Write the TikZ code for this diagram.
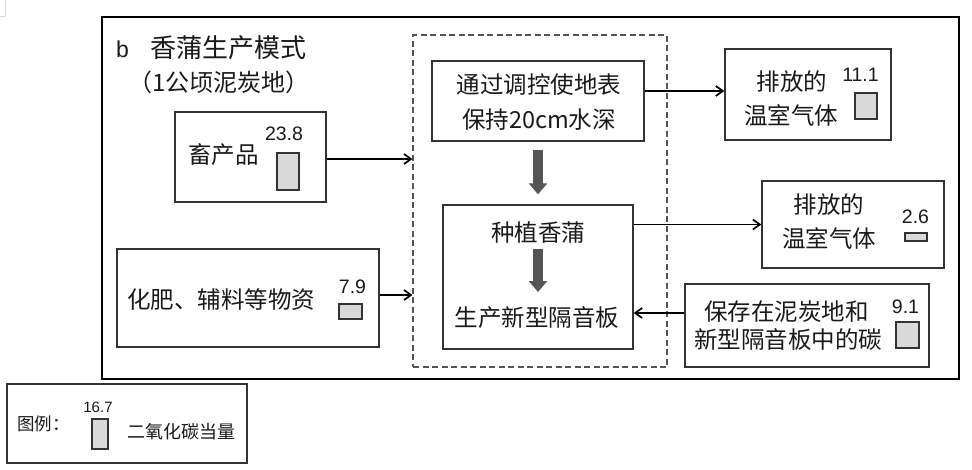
\documentclass[tikz,border=0pt]{standalone}
\usepackage{fontspec}
\setmainfont{Liberation Sans}
\newfontfamily\cjk{Noto Sans CJK SC}
\usetikzlibrary{arrows.meta}
\definecolor{boxline}{HTML}{333333}
\definecolor{barfill}{HTML}{D9D9D9}
\definecolor{garrowc}{HTML}{555555}
\definecolor{txt}{HTML}{1A1A1A}
\tikzset{
  frame/.style={draw=boxline, line width=1.4pt, inner sep=0pt, rectangle},
  cn/.style={font=\cjk\fontsize{23.5pt}{27pt}\selectfont, text=txt, inner sep=0pt},
  num/.style={font=\fontsize{19.5pt}{21pt}\selectfont, text=txt, inner sep=0pt},
  bar/.style={draw=boxline, fill=barfill, line width=1.1pt},
  conn/.style={draw=black, line width=1.7pt, -{Straight Barb[length=7pt,width=10pt]}},
  garrow/.style={draw=garrowc, line width=10pt, -{Triangle[length=11pt,width=18pt]}},
}
\begin{document}
\begin{tikzpicture}[x=1pt,y=-1pt]
\useasboundingbox[fill=white] (0,0) rectangle (972,469);
% faint artifact top-left
\draw[black!15, line width=0.8pt] (0,16.5) -- (5,16.5) -- (5,0);

% outer frame
\node[draw=black, line width=2.8pt, inner sep=0pt, minimum width=857pt, minimum height=362pt] (outer) at (530.5,198) {};
% title
\node[font=\fontsize{23pt}{25pt}\selectfont, text=txt, inner sep=0pt, anchor=west] (tb) at (116,49) {b};
\node[cn, font=\cjk\fontsize{26pt}{28pt}\selectfont, anchor=west] (title) at (150,48) {香蒲生产模式};
\node[cn, font=\cjk\fontsize{24pt}{26pt}\selectfont] (subtitle) at (219,82) {（1公顷泥炭地）};

% dashed group
\node[draw=garrowc, dash pattern=on 6pt off 3.5pt, line width=1.1pt, inner sep=0pt, minimum width=254pt, minimum height=332pt] (dash) at (540,201) {};

% boxes
\node[frame, minimum width=151pt, minimum height=90pt] (live) at (250.5,157) {};
\node[frame, minimum width=262pt, minimum height=98pt] (fert) at (248,298) {};
\node[frame, minimum width=212pt, minimum height=80pt] (ctrl) at (538,101) {};
\node[frame, minimum width=190pt, minimum height=144pt] (plant) at (538,277) {};
\node[frame, minimum width=166pt, minimum height=91pt] (em1) at (808,94.5) {};
\node[frame, minimum width=182pt, minimum height=87pt] (em2) at (853,224.5) {};
\node[frame, minimum width=244pt, minimum height=83pt] (store) at (807,325.5) {};
\node[frame, minimum width=240pt, minimum height=79pt] (legend) at (127,423.5) {};

% texts
\node[cn, anchor=west] (tlive) at (188,155) {畜产品};
\node[num] (nlive) at (284,134) {23.8};
\draw[bar] (277,153) rectangle (299,190);

\node[cn, anchor=west] (tfert) at (127,300) {化肥、辅料等物资};
\node[num] (nfert) at (352.5,287) {7.9};
\draw[bar] (339,304) rectangle (362,319);

\node[cn] (tctrl1) at (539,85) {通过调控使地表};
\node[cn] (tctrl2) at (539,120) {保持20cm水深};

\node[cn] (tplant1) at (538,233) {种植香蒲};
\node[cn] (tplant2) at (537,318) {生产新型隔音板};

\node[cn] (tem1a) at (792,82) {排放的};
\node[cn] (tem1b) at (791,115) {温室气体};
\node[num] (nem1) at (860.5,75) {11.1};
\draw[bar] (855,93) rectangle (877,119);

\node[cn] (tem2a) at (829,205) {排放的};
\node[cn] (tem2b) at (829,238) {温室气体};
\node[num] (nem2) at (915.5,217) {2.6};
\draw[bar] (905,233) rectangle (927,241);

\node[cn] (tst1) at (786.5,312) {保存在泥炭地和};
\node[cn] (tst2) at (788,339) {新型隔音板中的碳};
\node[num] (nst) at (905.5,307) {9.1};
\draw[bar] (896,322) rectangle (919,348);

% legend
\node[cn, font=\cjk\fontsize{17.5pt}{19pt}\selectfont, anchor=west] (tleg) at (17,424) {图例：};
\node[num, font=\fontsize{15pt}{16pt}\selectfont] (nleg) at (98,407) {16.7};
\draw[bar] (92,419) rectangle (108,449);
\node[cn, font=\cjk\fontsize{18pt}{20pt}\selectfont, anchor=west] (tleg2) at (127,432) {二氧化碳当量};

% connectors
\draw[conn] ([yshift=-2pt]live.east) -- ([yshift=-2pt]live.east -| dash.west);
\draw[conn] ([yshift=3pt]fert.east) -- ([yshift=3pt]fert.east -| dash.west);
\draw[conn] ([yshift=3.5pt]em1.west -| ctrl.east) -- ([yshift=3.5pt]em1.west);
\draw[conn] (em2.west -| plant.east) -- (em2.west);
\draw[conn] ([yshift=12.5pt]store.west) -- ([yshift=12.5pt]store.west -| plant.east);

% thick grey arrows
\draw[garrow] ([yshift=-8pt]ctrl.south) -- ([yshift=10pt]plant.north);
\coordinate (g2a) at (538,249);
\coordinate (g2b) at (538,292);
\draw[garrow] (g2a) -- (g2b);
\end{tikzpicture}
\end{document}
